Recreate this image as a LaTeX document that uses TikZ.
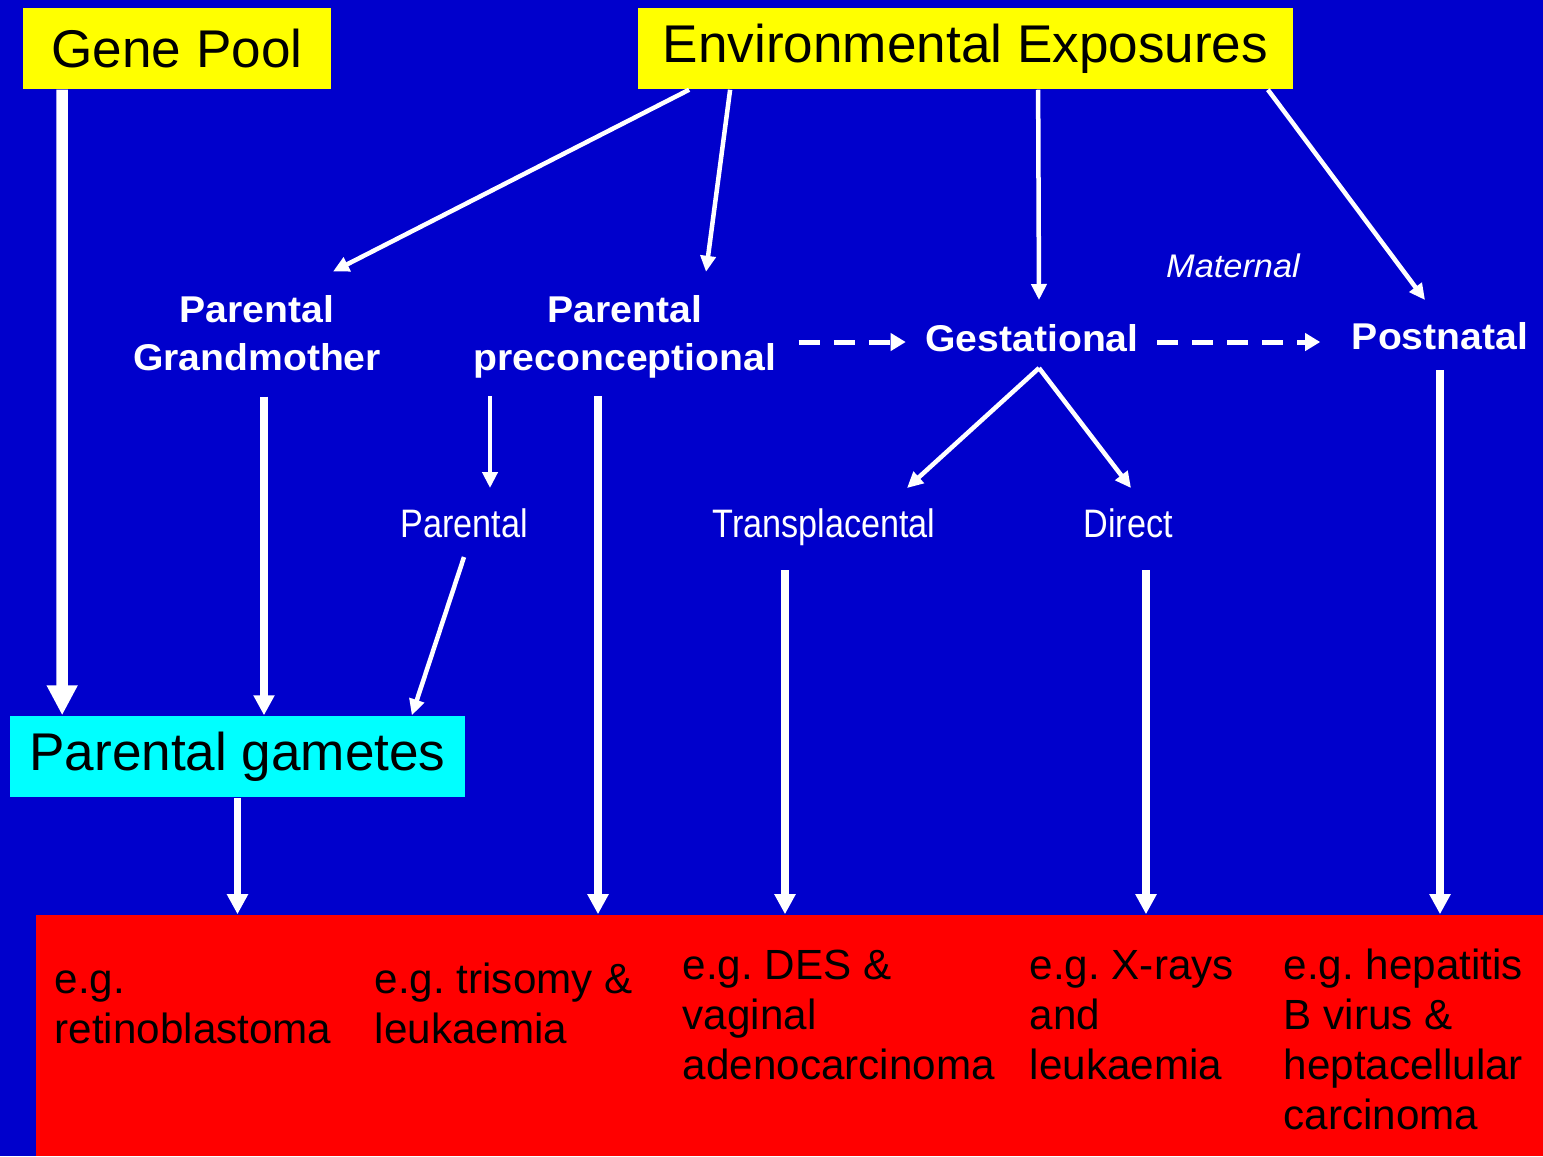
\documentclass[tikz,border=0pt]{standalone}
\usepackage{fontspec}
\setmainfont{Liberation Sans}
\newfontfamily\widefont[FakeStretch=1.05]{Liberation Sans}
\newfontfamily\narrowfont[FakeStretch=0.86]{Liberation Sans}
\usetikzlibrary{arrows.meta,positioning,calc}
\definecolor{slide}{RGB}{0,0,204}
\definecolor{boxY}{RGB}{255,255,0}
\definecolor{boxC}{RGB}{0,255,255}
\definecolor{boxR}{RGB}{255,0,0}
\frenchspacing
\tikzset{
  box/.style={inner sep=0pt,minimum height=8.1mm,font=\fontsize{15.1}{18}\selectfont,text=black},
  lbl/.style={inner sep=0pt,align=center,text=white,font=\widefont\bfseries\fontsize{10.6}{13.7}\selectfont},
  nlbl/.style={inner sep=0pt,anchor=base,text=white,font=\narrowfont\fontsize{11.3}{13}\selectfont},
  eg/.style={inner sep=0pt,anchor=base west,align=left,text=black,font=\fontsize{12}{14.2}\selectfont},
  tarr/.style={-{Triangle[length=1.6mm,width=1.5mm]},line width=0.45mm,white},
  marr/.style={-{Triangle[length=2mm,width=2mm]},line width=0.75mm,white},
  farr/.style={-{Triangle[length=3mm,width=2.9mm]},line width=1.15mm,white},
  darr/.style={-{Triangle[length=1.5mm,width=1.7mm]},line width=0.5mm,white,dash pattern=on 2.1mm off 1.4mm},
}

\begin{document}
\begin{tikzpicture}[x=0.01cm,y=-0.01cm]
\fill[slide] (0,0) rectangle (1543,1156);
\useasboundingbox (0,0) rectangle (1543,1156);

% boxes
\node[box,fill=boxY,minimum width=30.8mm] (gene) at (177,48.5) {Gene Pool};
\node[box,fill=boxY,minimum width=65.5mm] (env) at (965.5,48.5) {Environmental Exposures};
\node[box,fill=boxC,minimum width=45.5mm] (gam) at (237.5,756.5) {Parental gametes};
\node[fill=boxR,inner sep=0pt,minimum width=150.7mm,minimum height=24.1mm] (out) at (789.5,1035.5) {};

% labels
\node[lbl] (gm) at (257,333) {Parental\\Grandmother};
\node[lbl] (pre) at (625,337) {Parental\\preconceptional};
\node[lbl,anchor=base] (ges) at (1032,351) {Gestational};
\node[lbl,anchor=base] (post) at (1440,349) {Postnatal};
\node[inner sep=0pt,anchor=base,text=white,font=\widefont\itshape\fontsize{9.3}{11}\selectfont] (mat) at (1233,277) {Maternal};
\node[nlbl] (par) at (464,537) {Parental};
\node[nlbl] (trans) at (824,537) {Transplacental};
\node[nlbl] (dir) at (1128,537) {Direct};

% examples (base = last line)
\node[eg] (eg1) at (54,1043) {e.g.\\retinoblastoma};
\node[eg] (eg2) at (374,1043) {e.g. trisomy \&\\leukaemia};
\node[eg] (eg3) at (682,1079) {e.g. DES \&\\vaginal\\adenocarcinoma};
\node[eg] (eg4) at (1029,1079) {e.g. X-rays\\and\\leukaemia};
\node[eg] (eg5) at (1283,1129) {e.g. hepatitis\\B virus \&\\heptacellular\\carcinoma};

% exit points
\coordinate (gmout) at ($(gm.south)+(7,25)$);
\coordinate (preout) at ($(pre.south)+(-27,17)$);
\coordinate (gesout) at ($(ges.base)+(7,17)$);
\coordinate (trout) at ($(trans.base)+(-39,33)$);
\coordinate (dirout) at ($(dir.base)+(18,33)$);
\coordinate (postout) at ($(post.base)+(0,21)$);

% connectors
\draw[farr] ($(gene.south west)+(40,0)$) -- ($(gam.north west)+(53,0)$);
\draw[marr] (gmout) -- (gmout |- gam.north);
\draw[tarr] ($(par.base)+(0,20)$) -- ($(gam.north east)+(-54,0)$);
\draw[tarr] ($(env.south west)+(52,0)$) -- ($(gm.north)+(76,-23)$);
\draw[tarr] ($(env.south west)+(93,0)$) -- ($(pre.north)+(81,-23)$);
\draw[tarr] ($(env.south west)+(401,0)$) -- ($(ges.base)+(7,-51)$);
\draw[tarr] ($(env.south east)+(-26,0)$) -- ($(post.base)+(-15,-49)$);
\draw[tarr] ($(pre.south)+(-135,17)$) -- ($(par.base)+(26,-49)$);
\draw[marr] (preout) -- (preout |- out.north);
\draw[darr] ($(ges.base west)+(-126,-9)$) -- ($(ges.base west)+(-19,-9)$);
\draw[darr] ($(ges.base east)+(18,-9)$) -- ($(post.base west)+(-31,-7)$);
\draw[tarr] (gesout) -- ($(trans.base)+(83,-49)$);
\draw[tarr] (gesout) -- ($(dir.base)+(3,-49)$);
\draw[marr] (trout) -- (trout |- out.north);
\draw[marr] (dirout) -- (dirout |- out.north);
\draw[marr] (postout) -- (postout |- out.north);
\draw[marr] (gam.south) -- (gam.south |- out.north);
\end{tikzpicture}
\end{document}
